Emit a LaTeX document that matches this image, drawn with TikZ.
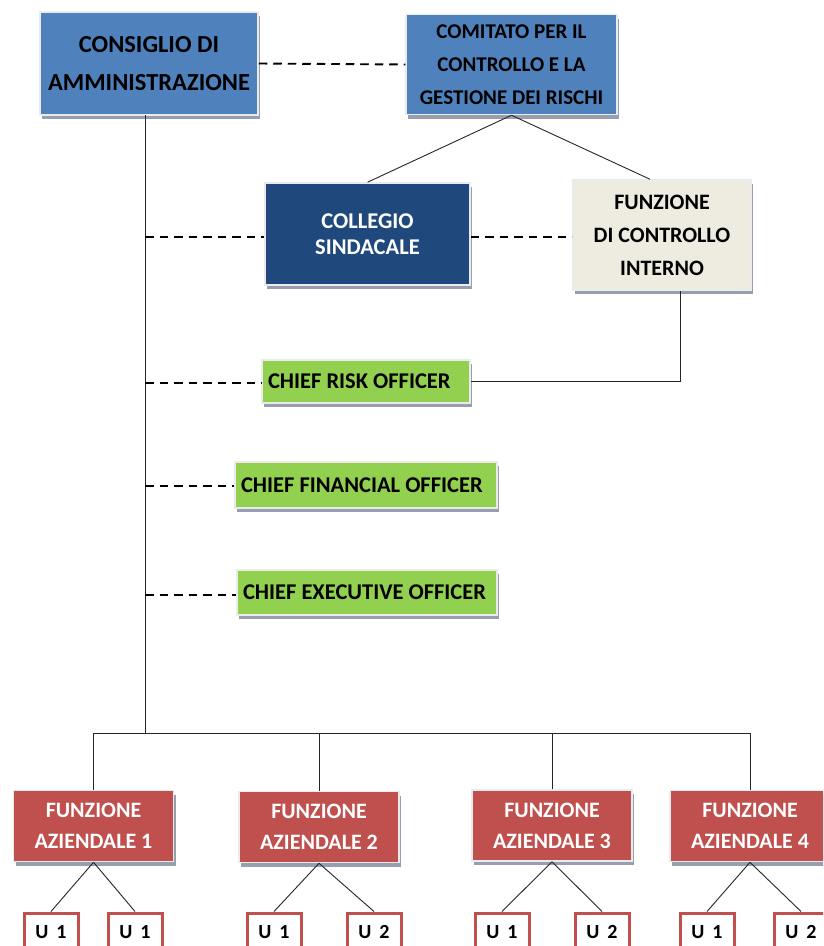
\documentclass[tikz,border=0pt]{standalone}
\usepackage{fontspec}
\setmainfont{Carlito}
\usetikzlibrary{shadows,calc}

\definecolor{boardblue}{HTML}{4F81BD}
\definecolor{navyblue}{HTML}{1F497D}
\definecolor{paperbeige}{HTML}{EEECE1}
\definecolor{officegreen}{HTML}{92D050}
\definecolor{unitred}{HTML}{C0504D}
\definecolor{shadowgray}{RGB}{150,158,175}

% unit labels use a slightly wider word space
\newcommand\unitlabelfont{\fontsize{20}{21}\selectfont\bfseries\spaceskip=0.4em plus 0pt\relax}

\tikzset{
  box/.style={rectangle, inner sep=0pt, align=flush center, draw=black!8, line width=1.5pt,
    drop shadow={shadow xshift=2pt, shadow yshift=-4pt, fill=shadowgray, opacity=1}},
  bluebox/.style={box, fill=boardblue, text=black},
  navybox/.style={box, fill=navyblue, text=white},
  beigebox/.style={box, fill=paperbeige, text=black},
  greenbox/.style={box, fill=officegreen, text=black, align=flush left, inner xsep=6pt,
    font=\fontsize{22.5}{24}\selectfont\bfseries},
  redbox/.style={box, fill=unitred, text=white, minimum width=160pt, minimum height=71pt,
    font=\fontsize{22}{31}\selectfont\bfseries},
  unitbox/.style={rectangle, draw=unitred, line width=3pt, fill=white, minimum width=54pt,
    minimum height=38pt, inner sep=0pt, font=\unitlabelfont},
  link/.style={draw=black!85, line width=0.9pt},
  dashlink/.style={draw=black, line width=1.9pt, dash pattern=on 8.5pt off 6pt},
}

\begin{document}
\begin{tikzpicture}[x=1pt, y=-1pt]
  \useasboundingbox (0,0) rectangle (823,946);
  \clip (0,0) rectangle (823,946);
  \fill[white] (0,0) rectangle (823,946);

  % governance boxes
  \node[bluebox, minimum width=218pt, minimum height=103pt,
        font=\fontsize{24.5}{38}\selectfont\bfseries] (board) at (149,63.5)
        {CONSIGLIO DI\\AMMINISTRAZIONE};
  \node[bluebox, minimum width=211pt, minimum height=100pt,
        font=\fontsize{21}{33}\selectfont\bfseries] (risk) at (511.5,64.5)
        {COMITATO PER IL\\CONTROLLO E LA\\GESTIONE DEI RISCHI};
  \node[navybox, minimum width=205pt, minimum height=102pt,
        font=\fontsize{22.5}{26}\selectfont\bfseries] (audit) at (367.5,234)
        {COLLEGIO\\SINDACALE};
  \node[beigebox, minimum width=178pt, minimum height=110pt,
        font=\fontsize{22}{33}\selectfont\bfseries] (ctrl) at (662,235)
        {FUNZIONE\\DI CONTROLLO\\INTERNO};

  % officers
  \node[greenbox, text width=196pt, minimum height=43pt] (cro) at (366,381.5)
        {CHIEF RISK OFFICER};
  \node[greenbox, text width=250pt, minimum height=46pt] (cfo) at (366,485)
        {CHIEF FINANCIAL OFFICER};
  \node[greenbox, text width=248pt, minimum height=45pt] (ceo) at (367,592.5)
        {CHIEF EXECUTIVE OFFICER};

  % business functions
  \node[redbox] (fa1) at (93.5,826) {FUNZIONE\\AZIENDALE 1};
  \node[redbox] (fa2) at (319,827) {FUNZIONE\\AZIENDALE 2};
  \node[redbox] (fa3) at (552,825.5) {FUNZIONE\\AZIENDALE 3};
  \node[redbox] (fa4) at (750,826) {FUNZIONE\\AZIENDALE 4};

  % units (their lower part runs past the page edge)
  \node[unitbox] (u11) at (51,932) {U 1};
  \node[unitbox] (u12) at (135,932) {U 1};
  \node[unitbox] (u21) at (274,932) {U 1};
  \node[unitbox] (u22) at (374,932) {U 2};
  \node[unitbox] (u31) at (502,932) {U 1};
  \node[unitbox] (u32) at (602,932) {U 2};
  \node[unitbox] (u41) at (707,932) {U 1};
  \node[unitbox] (u42) at (801,932) {U 2};

  % trunk and bus
  \coordinate (trunktop) at (145,115);
  \coordinate (trunkbot) at (145,733);
  \coordinate (bus) at (0,733);
  \draw[link] (trunktop) -- (trunkbot);
  \draw[link] (fa1.north) -- (fa1.north |- bus) -- (fa4.north |- bus) -- (fa4.north);
  \draw[link] (fa2.north) -- (fa2.north |- bus);
  \draw[link] (fa3.north) -- (fa3.north |- bus);

  % committee links
  \draw[link] (risk.south) -- (audit.north);
  \draw[link] (risk.south) -- ($(ctrl.north)+(-12,0)$);
  \draw[link] ($(ctrl.south)+(18,0)$) |- (cro.east);

  % dashed relations
  \draw[dashlink] (board.east) -- (risk.west);
  \draw[dashlink] (trunktop |- 0,237) -- (audit.west |- 0,237);
  \draw[dashlink] (audit.east |- 0,237) -- (ctrl.west |- 0,237);
  \draw[dashlink] (trunktop |- 0,383) -- (cro.west |- 0,383);
  \draw[dashlink] (trunktop |- 0,486) -- (cfo.west |- 0,486);
  \draw[dashlink] (trunktop |- 0,595) -- (ceo.west |- 0,595);

  % function to unit links
  \foreach \f in {1,2,3,4}{
    \draw[link] (fa\f.south) -- (u\f1.north);
    \draw[link] (fa\f.south) -- (u\f2.north);
  }
\end{tikzpicture}
\end{document}
